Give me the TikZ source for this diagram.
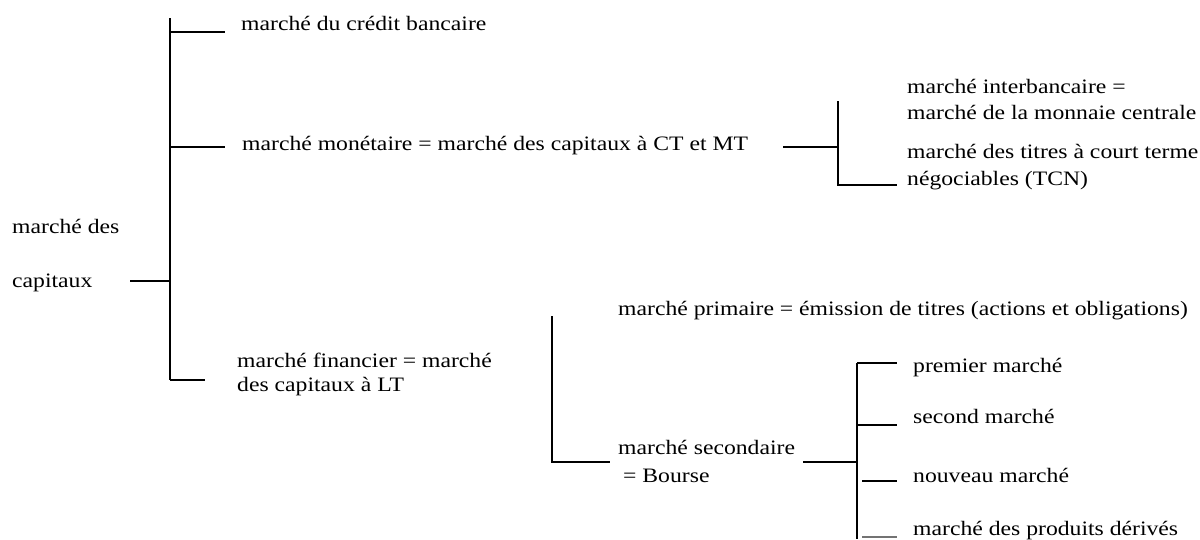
\documentclass[tikz,border=0pt]{standalone}
\usepackage{fontspec}
\setmainfont{Liberation Serif}[FakeStretch=1.155]
\usepackage{tkz-euclide}
\usetikzlibrary{positioning}

\tikzset{
  txt/.style={anchor=base west,inner sep=0pt,align=left,
    font=\fontsize{20.5}{26}\selectfont},
  bar/.style={line width=2.6pt,color=black},
  thinbar/.style={line width=1.4pt,color=black!55}
}

\begin{document}
\begin{tikzpicture}[x=1pt,y=-1pt]
    \useasboundingbox (0,0) rectangle (1200,539);
    %definitions
    \tkzDefPoint(130,281){R}
    \tkzDefPoint(170,281){S}
    \tkzDefPoint(170,18){T}
    \tkzDefPoint(170,32){A}
    \tkzDefPoint(225,32){A'}
    \tkzDefPoint(170,147){B}
    \tkzDefPoint(225,147){B'}
    \tkzDefPoint(170,380){C}
    \tkzDefPoint(205,380){C'}
    %monetaire
    \tkzDefPoint(783,147){D}
    \tkzDefPoint(838,147){D'}
    \tkzDefPoint(838,101){E}
    \tkzDefPoint(838,185){E'}
    \tkzDefPoint(897,185){F}
    %financier
    \tkzDefPoint(552,316){G}
    \tkzDefPoint(552,462){G'}
    \tkzDefPoint(610,462){H}
    %bourse
    \tkzDefPoint(803,462){K}
    \tkzDefPoint(857,462){K'}
    \tkzDefPoint(857,363){L}
    \tkzDefPoint(857,539){L'}
    \tkzDefPoint(897,363){M}
    \tkzDefPoint(857,425){N}
    \tkzDefPoint(897,425){N'}
    \tkzDefPoint(862,481){P}
    \tkzDefPoint(897,481){P'}
    \tkzDefPoint(862,537){Q}
    \tkzDefPoint(897,537){Q'}
    %segments
    \draw[bar] (R) -- (S) (T) -- (C) (A) -- (A') (B) -- (B') (C) -- (C');
    \draw[bar] (D) -- (D') (E) -- (E') -- (F);
    \draw[bar] (G) -- (G') -- (H);
    \draw[bar] (K) -- (K') (L) -- (L') (L) -- (M) (N) -- (N') (P) -- (P');
    \draw[thinbar] (Q) -- (Q');
    %labels
    \node[txt,font=\fontsize{20.5}{54}\selectfont] (capitaux) at (12,287) {marché des\\capitaux};
    \node[txt] (credit) at (241,30) {marché du crédit bancaire};
    \node[txt] (monetaire) at (242,150) {marché monétaire = marché des capitaux à CT et MT};
    \node[txt,font=\fontsize{20.5}{24}\selectfont] (financier) at (237,391) {marché financier = marché\\des capitaux à LT};
    \node[txt] (interbancaire) at (907,119) {marché interbancaire =\\marché de la monnaie centrale};
    \node[txt,font=\fontsize{20.5}{27}\selectfont] (tcn) at (907,185) {marché des titres à court terme\\négociables (TCN)};
    \node[txt] (primaire) at (618,315) {marché primaire = émission de titres (actions et obligations)};
    \node[txt,font=\fontsize{20.5}{28}\selectfont] (secondaire) at (618,482) {marché secondaire\\\hspace*{5pt}= Bourse};
    \node[txt] (premier) at (913,372) {premier marché};
    \node[txt] (second) at (913,423) {second marché};
    \node[txt] (nouveau) at (913,482) {nouveau marché};
    \node[txt] (derives) at (913,535) {marché des produits dérivés};
\end{tikzpicture}
\end{document}
